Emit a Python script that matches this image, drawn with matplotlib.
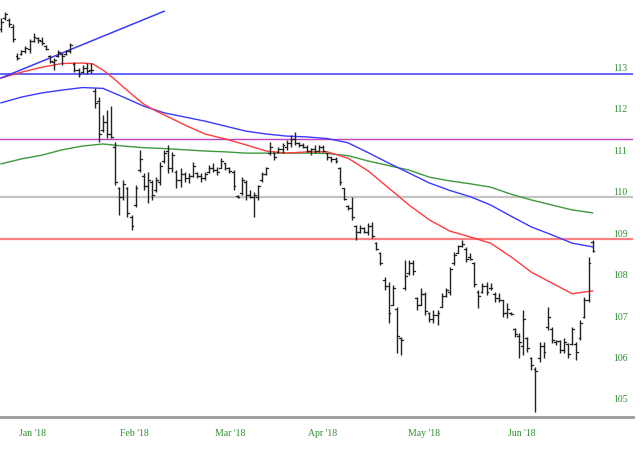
import matplotlib
matplotlib.use("Agg")
import matplotlib.pyplot as plt
import matplotlib.transforms as mtransforms

# daily OHLC bars, Dec '17 - Jun '18
highs = [114.20, 114.35, 114.20, 114.06, 113.36, 113.43, 113.53, 113.70, 113.84, 113.75,
         113.75, 113.55, 113.31, 113.24, 113.43, 113.36, 113.43, 113.60, 113.15, 113.00,
         113.07, 113.12, 113.12, 112.52, 112.30, 111.87, 111.99, 112.08, 111.22, 110.13,
         110.30, 110.13, 109.46, 110.18, 111.02, 110.47, 110.50, 110.30, 110.37, 110.74,
         111.02, 111.15, 110.98, 110.54, 110.59, 110.50, 110.47, 110.74, 110.50, 110.47,
         110.50, 110.66, 110.71, 110.62, 110.83, 110.71, 110.62, 110.54, 109.94, 110.37,
         110.30, 110.06, 110.01, 110.18, 110.50, 110.62, 111.22, 110.98, 111.10, 111.19,
         111.27, 111.39, 111.46, 111.22, 111.19, 111.15, 111.07, 111.15, 111.15, 111.15,
         110.95, 110.86, 110.86, 110.62, 110.11, 109.70, 109.89, 109.22, 109.22, 109.17,
         109.27, 109.29, 108.81, 108.57, 107.96, 107.84, 107.77, 107.24, 106.52, 108.37,
         108.37, 108.37, 107.48, 107.70, 107.60, 107.12, 107.17, 107.17, 107.58, 107.70,
         108.21, 108.57, 108.74, 108.86, 108.69, 108.54, 108.33, 107.65, 107.82, 107.84,
         107.82, 107.60, 107.58, 107.41, 107.34, 107.12, 106.74, 106.61, 107.17, 106.52,
         106.04, 105.80, 106.40, 106.40, 107.24, 106.76, 106.45, 106.45, 106.49, 106.37,
         106.76, 106.40, 106.93, 107.48, 108.45, 108.86]
lows = [113.87, 114.16, 113.99, 113.63, 113.19, 113.31, 113.36, 113.36, 113.63, 113.60,
        113.55, 113.43, 113.12, 112.95, 113.27, 113.07, 113.31, 113.36, 112.90, 112.78,
        112.88, 112.86, 112.88, 112.04, 111.22, 111.46, 111.31, 111.31, 110.18, 109.46,
        109.82, 109.41, 109.10, 109.65, 110.50, 110.06, 109.75, 109.82, 110.01, 110.18,
        110.71, 110.47, 110.50, 110.11, 110.13, 110.25, 110.23, 110.37, 110.35, 110.25,
        110.30, 110.47, 110.50, 110.42, 110.59, 110.54, 110.47, 110.06, 109.87, 109.94,
        109.82, 109.87, 109.41, 109.82, 110.25, 110.42, 110.90, 110.78, 110.95, 110.95,
        111.02, 111.10, 111.15, 111.10, 111.07, 110.98, 110.90, 110.95, 110.98, 110.98,
        110.78, 110.74, 110.71, 110.18, 109.82, 109.58, 109.34, 108.86, 109.02, 109.02,
        108.98, 108.90, 108.61, 108.25, 107.65, 106.86, 107.29, 106.13, 106.08, 107.65,
        108.01, 108.01, 107.17, 107.29, 107.05, 106.88, 106.86, 106.81, 107.24, 107.48,
        107.53, 108.25, 108.54, 108.69, 108.33, 108.37, 107.72, 107.22, 107.58, 107.53,
        107.65, 107.36, 107.36, 107.00, 106.98, 107.05, 106.52, 106.01, 106.08, 106.16,
        105.72, 104.71, 105.92, 106.01, 106.69, 106.37, 106.33, 106.13, 106.13, 106.01,
        106.33, 105.96, 106.45, 106.98, 107.36, 108.57]
opens = [113.95, 114.20, 114.15, 114.00, 113.30, 113.33, 113.40, 113.45, 113.66, 113.72,
         113.66, 113.52, 113.28, 113.15, 113.30, 113.33, 113.33, 113.42, 113.10, 112.95,
         112.90, 113.00, 112.95, 112.45, 112.20, 111.50, 111.70, 111.40, 111.10, 110.10,
         109.90, 110.10, 109.40, 109.70, 110.55, 110.40, 110.15, 110.25, 110.05, 110.25,
         110.75, 111.00, 110.60, 110.50, 110.30, 110.45, 110.35, 110.40, 110.48, 110.40,
         110.35, 110.50, 110.60, 110.55, 110.60, 110.70, 110.58, 110.50, 109.92, 110.00,
         110.25, 109.95, 109.90, 109.90, 110.30, 110.45, 110.95, 110.95, 110.98, 111.05,
         111.10, 111.20, 111.30, 111.20, 111.15, 111.10, 111.00, 111.05, 111.00, 111.10,
         110.95, 110.85, 110.80, 110.60, 110.10, 109.68, 109.62, 109.20, 109.05, 109.15,
         109.05, 109.20, 108.78, 108.55, 107.90, 107.75, 107.30, 107.20, 106.50, 107.70,
         108.05, 108.30, 107.45, 107.30, 107.55, 107.10, 106.95, 107.05, 107.25, 107.50,
         107.60, 108.30, 108.55, 108.70, 108.65, 108.45, 108.30, 107.60, 107.60, 107.75,
         107.70, 107.55, 107.45, 107.40, 107.10, 107.10, 106.70, 106.55, 106.30, 106.50,
         106.00, 105.75, 106.00, 106.30, 106.75, 106.70, 106.40, 106.42, 106.20, 106.35,
         106.35, 106.35, 106.50, 107.00, 107.40, 108.80]
closes = [114.10, 114.30, 114.05, 113.70, 113.25, 113.40, 113.48, 113.65, 113.75, 113.68,
          113.60, 113.46, 113.18, 113.20, 113.38, 113.30, 113.40, 113.55, 112.95, 112.85,
          113.00, 112.92, 112.95, 112.15, 111.40, 111.70, 111.40, 111.35, 110.25, 109.90,
          110.20, 109.50, 109.20, 110.10, 110.80, 110.15, 110.30, 109.95, 110.30, 110.65,
          110.95, 110.60, 110.90, 110.30, 110.45, 110.35, 110.40, 110.65, 110.40, 110.35,
          110.45, 110.60, 110.55, 110.50, 110.75, 110.60, 110.52, 110.15, 109.90, 110.30,
          109.95, 109.90, 109.95, 110.15, 110.45, 110.58, 111.10, 110.85, 111.05, 111.15,
          111.20, 111.30, 111.20, 111.15, 111.10, 111.00, 111.05, 111.00, 111.10, 111.00,
          110.85, 110.80, 110.75, 110.25, 109.85, 109.62, 109.40, 109.05, 109.15, 109.05,
          109.20, 108.95, 108.65, 108.30, 107.75, 107.10, 107.70, 106.55, 106.45, 108.00,
          108.30, 108.10, 107.30, 107.55, 107.15, 106.95, 107.05, 107.10, 107.50, 107.65,
          108.15, 108.50, 108.70, 108.75, 108.40, 108.40, 107.80, 107.50, 107.75, 107.60,
          107.70, 107.45, 107.40, 107.10, 107.20, 107.08, 106.60, 106.40, 106.95, 106.25,
          105.85, 105.70, 106.30, 106.15, 107.00, 106.45, 106.42, 106.20, 106.40, 106.10,
          106.70, 106.15, 106.85, 107.40, 108.30, 108.60]

# moving averages
ma_idx = list(range(0, 150, 5))
red_idx = [0, 5, 10, 15, 20, 22.5, 25, 27.5, 30, 32.5, 35, 37.5, 40, 45,
           50, 55, 60, 65, 70, 75, 80, 85, 90, 95, 100, 105, 110, 115, 120,
           125, 130, 135, 140, 145]
ma_red = [112.76, 112.90, 113.02, 113.11, 113.12, 113.10, 112.95, 112.76, 112.54, 112.33,
          112.13, 111.99, 111.87, 111.63, 111.41, 111.29, 111.15, 111.00, 110.95, 110.98,
          110.98, 110.83, 110.52, 110.11, 109.70, 109.34, 109.07, 108.93, 108.78, 108.45,
          108.08, 107.82, 107.56, 107.63]
ma_blue = [112.16, 112.30, 112.40, 112.47, 112.53, 112.51, 112.30, 112.08, 111.92, 111.82,
           111.72, 111.60, 111.48, 111.41, 111.36, 111.34, 111.30, 111.20, 110.96, 110.71,
           110.47, 110.23, 110.05, 109.90, 109.70, 109.43, 109.17, 108.98, 108.78, 108.69]
ma_green = [110.69, 110.81, 110.90, 111.03, 111.12, 111.17, 111.12, 111.08, 111.06, 111.03,
            111.00, 110.98, 110.95, 110.95, 110.95, 110.95, 110.94, 110.89, 110.76, 110.65,
            110.54, 110.37, 110.28, 110.21, 110.13, 109.96, 109.82, 109.70, 109.58, 109.51]

# drawn levels and trend line
level_blue = 112.86
level_magenta = 111.29
level_gray = 109.89
level_red = 108.88
trend_idx = [0, 40]
trend_val = [112.76, 114.37]

month_labels = ["Jan '18", "Feb '18", "Mar '18", "Apr '18", "May '18", "Jun '18"]
month_pos = [7.8, 32.8, 56.1, 78.7, 103.7, 127.7]
y_ticks = [105, 106, 107, 108, 109, 110, 111, 112, 113]

label_green = "#2f8f2f"

fig = plt.figure(figsize=(6.4, 4.49), dpi=100)
ax = fig.add_axes([0, 32 / 449, 633 / 640, 417 / 449])

ax.axhline(level_blue, color="#3a3aff", lw=1.1, zorder=1)
ax.axhline(level_magenta, color="#c040c0", lw=1.0, zorder=1)
ax.axhline(level_gray, color="#c4c4c4", lw=1.6, zorder=1)
ax.axhline(level_red, color="#ff8080", lw=1.6, zorder=1)

ax.plot(ma_idx, ma_green, color="#3c9a3c", lw=1.0, zorder=2)
ax.plot(ma_idx, ma_blue, color="#3a3aff", lw=1.0, zorder=2)
ax.plot(red_idx, ma_red, color="#ff3c3c", lw=1.0, zorder=2)
ax.plot(trend_idx, trend_val, color="#3a3aff", lw=1.1, zorder=2)

tick = 0.45
for i in range(len(highs)):
    ax.plot([i, i], [lows[i], highs[i]], color="#222222", lw=1.0, solid_capstyle="butt", zorder=3)
    ax.plot([i - tick, i], [opens[i], opens[i]], color="#222222", lw=0.9, zorder=3)
    ax.plot([i, i + tick], [closes[i], closes[i]], color="#222222", lw=0.9, zorder=3)

ax.set_xlim(-0.25, 154.9)
ax.set_ylim(104.59, 114.64)

for s in ["top", "left", "right"]:
    ax.spines[s].set_visible(False)
ax.spines["bottom"].set_color("#9a9a9a")
ax.spines["bottom"].set_linewidth(2)

ax.set_yticks([])
ax.set_xticks(month_pos)
ax.set_xticklabels(month_labels, family="Liberation Serif", fontsize=7, color=label_green)
ax.tick_params(axis="x", length=0, pad=9)

trans = mtransforms.blended_transform_factory(ax.transAxes, ax.transData)
for v in y_ticks:
    ax.text(620 / 633, v, str(v), transform=trans, ha="center", va="center",
            family="Liberation Serif", fontsize=7, color=label_green)

fig.savefig("out.png", dpi=100)
